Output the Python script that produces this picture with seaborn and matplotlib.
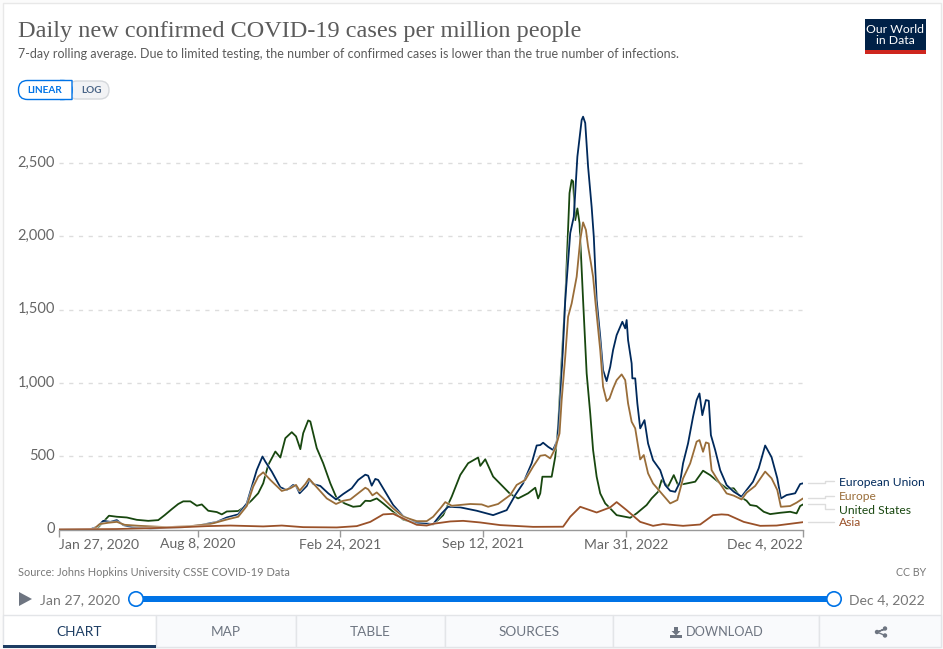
import pandas as pd
import matplotlib
matplotlib.use('Agg')
import matplotlib.pyplot as plt
import matplotlib.patheffects as pe
from matplotlib.patches import FancyBboxPatch, Rectangle, Polygon, Circle
import seaborn as sns

# values: day = days since Jan 27, 2020
us_days = [0, 48, 53, 62, 70, 81, 95, 109, 125, 139, 148, 158, 167, 174, 184, 193, 200, 209, 221, 228, 235, 251, 260, 270, 279, 286, 293, 303, 310, 317, 326, 332, 338, 342, 349, 352, 361, 370, 380, 389, 400, 412, 422, 429, 436, 445, 454, 468, 482, 501, 524, 538, 550, 562, 573, 587, 590, 597, 608, 632, 643, 657, 667, 671, 674, 677, 683, 690, 695, 699, 704, 709, 715, 718, 720, 723, 726, 729, 734, 739, 744, 748, 753, 758, 765, 772, 781, 800, 809, 823, 830, 839, 844, 853, 861, 867, 879, 891, 902, 912, 923, 935, 945, 954, 963, 968, 977, 987, 996, 1010, 1024, 1033, 1038, 1042]
us_vals = [0, 0, 5, 52, 94, 87, 82, 66, 59, 64, 98, 139, 174, 192, 192, 162, 171, 128, 119, 103, 123, 126, 155, 200, 247, 315, 440, 532, 491, 623, 664, 635, 548, 657, 744, 737, 555, 452, 315, 212, 178, 155, 160, 196, 194, 212, 178, 121, 68, 41, 34, 98, 224, 372, 452, 491, 434, 479, 361, 242, 212, 247, 285, 212, 246, 360, 360, 360, 496, 701, 1156, 1565, 2295, 2384, 2375, 2110, 2190, 2090, 1565, 1065, 792, 542, 360, 246, 178, 144, 98, 80, 110, 167, 212, 257, 337, 292, 371, 303, 314, 326, 401, 371, 326, 280, 281, 224, 196, 167, 160, 121, 105, 114, 121, 110, 160, 171]

eu_days = [0, 43, 53, 62, 72, 81, 90, 102, 128, 174, 198, 221, 235, 251, 263, 270, 277, 285, 289, 298, 310, 319, 328, 332, 337, 347, 351, 356, 366, 377, 388, 398, 410, 419, 429, 433, 438, 443, 447, 454, 468, 482, 501, 524, 536, 545, 562, 585, 608, 627, 639, 650, 662, 669, 674, 678, 685, 692, 698, 702, 705, 709, 716, 721, 726, 732, 734, 737, 741, 746, 749, 753, 758, 762, 767, 772, 776, 781, 786, 789, 793, 795, 797, 802, 803, 807, 810, 814, 820, 825, 832, 842, 849, 856, 863, 870, 874, 881, 888, 893, 897, 901, 906, 910, 913, 919, 926, 935, 945, 956, 963, 972, 980, 989, 998, 1006, 1011, 1019, 1031, 1038, 1042]
eu_vals = [0, 0, 18, 59, 52, 64, 30, 16, 7, 16, 30, 52, 82, 103, 178, 292, 406, 498, 463, 395, 288, 269, 304, 297, 247, 297, 342, 310, 297, 247, 205, 242, 281, 338, 374, 367, 299, 345, 338, 281, 167, 91, 46, 37, 110, 155, 151, 128, 98, 132, 235, 315, 452, 573, 576, 592, 564, 542, 610, 883, 1156, 1565, 2022, 2134, 2543, 2793, 2816, 2773, 2475, 2200, 1997, 1565, 1315, 1087, 1012, 1110, 1224, 1326, 1383, 1417, 1372, 1429, 1292, 1133, 1031, 1031, 860, 690, 746, 587, 473, 405, 303, 264, 257, 326, 451, 587, 769, 883, 928, 780, 883, 878, 644, 542, 405, 303, 258, 224, 269, 326, 418, 573, 493, 349, 212, 235, 247, 310, 315]

europe_days = [0, 48, 57, 69, 81, 92, 113, 151, 184, 212, 235, 251, 263, 272, 279, 286, 296, 312, 324, 332, 337, 345, 350, 361, 375, 388, 398, 408, 419, 429, 433, 439, 445, 454, 468, 482, 501, 515, 524, 534, 541, 550, 576, 592, 601, 615, 632, 641, 653, 664, 674, 681, 688, 695, 701, 704, 709, 713, 718, 725, 730, 734, 738, 741, 745, 748, 751, 758, 762, 767, 771, 776, 781, 788, 793, 797, 802, 807, 814, 819, 825, 832, 844, 856, 866, 874, 884, 893, 897, 902, 906, 910, 914, 924, 935, 945, 956, 963, 975, 989, 998, 1006, 1011, 1024, 1033, 1042]
europe_vals = [0, 0, 37, 46, 52, 32, 25, 16, 23, 37, 68, 87, 160, 292, 361, 390, 338, 263, 281, 304, 265, 310, 347, 288, 212, 174, 196, 205, 247, 285, 274, 233, 253, 212, 144, 87, 57, 57, 87, 144, 187, 162, 174, 171, 155, 174, 235, 304, 338, 429, 503, 508, 485, 553, 655, 883, 1178, 1451, 1542, 1724, 1975, 2095, 2043, 1929, 1817, 1724, 1565, 1224, 974, 876, 894, 962, 1019, 1058, 1019, 860, 735, 690, 478, 508, 383, 314, 246, 178, 201, 348, 451, 599, 610, 530, 594, 587, 405, 326, 246, 231, 205, 251, 297, 395, 349, 269, 155, 160, 183, 212]

asia_days = [0, 81, 128, 174, 207, 240, 286, 312, 342, 389, 417, 436, 454, 468, 482, 501, 515, 524, 548, 566, 590, 618, 664, 706, 716, 730, 753, 772, 781, 795, 814, 832, 846, 874, 898, 916, 928, 937, 959, 982, 1005, 1042]
asia_vals = [0, 3, 9, 16, 23, 27, 21, 27, 16, 14, 23, 52, 103, 107, 75, 32, 27, 39, 55, 59, 48, 30, 18, 19, 87, 155, 116, 151, 187, 132, 52, 25, 37, 25, 34, 98, 103, 100, 52, 25, 27, 50]

series_names = ['United States', 'European Union', 'Europe', 'Asia']
series_colors = ['#18470f', '#00295b', '#996d39', '#9a5129']

y_ticks = [0, 500, 1000, 1500, 2000, 2500]
y_labels = ['0', '500', '1,000', '1,500', '2,000', '2,500']
x_ticks = [0, 194, 394, 594, 794, 1042]
x_labels = ['Jan 27, 2020', 'Aug 8, 2020', 'Feb 24, 2021', 'Sep 12, 2021', 'Mar 31, 2022', 'Dec 4, 2022']

frames = []
for name, d, v in zip(series_names, [us_days, eu_days, europe_days, asia_days], [us_vals, eu_vals, europe_vals, asia_vals]):
    frames.append(pd.DataFrame({'day': d, 'cases': v, 'region': name}))
df = pd.concat(frames, ignore_index=True)

sns.set_theme(style='white')
plt.rcParams['font.family'] = ['Lato', 'DejaVu Sans']

W, H = 943, 649
fig = plt.figure(figsize=(W / 100, H / 100), dpi=100, facecolor='#fbfbfb')

# page furniture drawn in pixel coordinates
ui = fig.add_axes([0, 0, 1, 1], zorder=0)
ui.set_xlim(0, W)
ui.set_ylim(H, 0)
ui.axis('off')
ui.add_patch(Rectangle((3, 3), 938, 644, fc='white', ec='#e8e8e8', lw=1))

# main chart
px_per_val = 0.1466
top, bottom, left, right = 100, 529.5, 59, 803
ax = fig.add_axes([left / W, 1 - bottom / H, (right - left) / W, (bottom - top) / H], zorder=1)
ax.patch.set_alpha(0)
sns.lineplot(data=df, x='day', y='cases', hue='region', hue_order=series_names,
             palette=series_colors, estimator=None, sort=False, legend=False, lw=1.3, ax=ax,
             path_effects=[pe.Stroke(linewidth=2.2, foreground='white', alpha=0.6), pe.Normal()])
ax.set_xlim(0, 1042)
ax.set_ylim(0, (bottom - top) / px_per_val)
ax.set_xlabel('')
ax.set_ylabel('')
sns.despine(ax=ax, left=True, top=True, right=True)
ax.spines['bottom'].set_color('#999999')
ax.spines['bottom'].set_linewidth(1)
ax.set_yticks(y_ticks[1:])
ax.set_yticklabels([])
ax.tick_params(axis='y', length=0)
ax.grid(axis='y', color='#dddddd', ls=(0, (3, 4)), lw=1)
ax.set_axisbelow(True)
ax.set_xticks(x_ticks)
ax.set_xticklabels([])
ax.tick_params(axis='x', length=5, width=1, color='#999999', bottom=True)

grey = '#666666'
for t, lab in zip(y_ticks, y_labels):
    ui.text(55, bottom - t * px_per_val - 0.5, lab, ha='right', va='center', fontsize=10.5, color=grey)
for i, (t, lab) in enumerate(zip(x_ticks, x_labels)):
    ha = 'left' if i == 0 else 'right' if i == len(x_ticks) - 1 else 'center'
    ui.text(left + t * (right - left) / 1042, 544, lab, ha=ha, va='center', fontsize=10.1, color=grey)

# end labels with connectors
labels = [('European Union', 482, 483.3, 481, series_colors[1]),
          ('Europe', 496, 498.3, 495.7, series_colors[2]),
          ('United States', 510, 504.3, 509.3, series_colors[0]),
          ('Asia', 523, 522.3, 522.3, series_colors[3])]
for name, ty, y0, y1, col in labels:
    ui.plot([808, 825, 825, 834], [y0, y0, y1, y1], color='#dddddd', lw=1)
    ui.text(839, ty, name, ha='left', va='center', fontsize=8.65, color=col)

# header
ui.text(18, 31, 'Daily new confirmed COVID-19 cases per million people', ha='left', va='center',
        fontsize=17.5, color='#5b5b5b', family=['Liberation Serif', 'DejaVu Serif'])
ui.text(18, 53.5, '7-day rolling average. Due to limited testing, the number of confirmed cases is lower than the true number of infections.',
        ha='left', va='center', fontsize=9.0, color='#5b5b5b')

# logo
ui.add_patch(Rectangle((865, 19), 61, 35, fc='#002147', ec='none'))
ui.add_patch(Rectangle((865, 50), 61, 4, fc='#ce261e', ec='none'))
ui.text(895.5, 35, 'Our World\nin Data', ha='center', va='center', fontsize=8.8, color='white', linespacing=1.05)

# linear / log toggle
ui.add_patch(FancyBboxPatch((68, 81), 41, 18, boxstyle='round,pad=0,rounding_size=9', fc='#f2f3f5', ec='#d5d8dc', lw=1))
ui.add_patch(FancyBboxPatch((18.5, 80.5), 53.5, 19, boxstyle='round,pad=0,rounding_size=9', fc='white', ec='#0073e6', lw=1))
ui.add_patch(Rectangle((60, 81), 12, 18, fc='white', ec='none'))
ui.plot([60, 72, 72, 60], [80.5, 80.5, 99.5, 99.5], color='#0073e6', lw=1, solid_capstyle='butt', snap=False)
ui.text(45, 90.5, 'LINEAR', ha='center', va='center', fontsize=7.2, fontweight='bold', color='#0073e6')
ui.text(91, 90.5, 'LOG', ha='center', va='center', fontsize=7.2, fontweight='bold', color='#4a6587')

# footer
ui.text(18, 572, 'Source: Johns Hopkins University CSSE COVID-19 Data', ha='left', va='center', fontsize=7.95, color='#777777')
ui.text(926, 572, 'CC BY', ha='right', va='center', fontsize=7.7, color='#777777')

# timeline
ui.add_patch(Polygon([(19, 592), (19, 606), (32, 599)], fc='#6e7581', ec='none'))
ui.text(40, 600, 'Jan 27, 2020', ha='left', va='center', fontsize=10.1, color='#777777')
ui.text(925, 600, 'Dec 4, 2022', ha='right', va='center', fontsize=10.1, color='#777777')
ui.add_patch(Rectangle((136, 596), 698, 6, fc='#0073e6', ec='none'))
for cx in (136, 834):
    ui.add_patch(Circle((cx, 599), 7.2, fc='white', ec='#0073e6', lw=1.2, zorder=5))

# tabs
tab_edges = [3, 156, 296, 445, 613, 819, 941]
tab_names = ['CHART', 'MAP', 'TABLE', 'SOURCES', '', '']
for i, name in enumerate(tab_names):
    x0, x1 = tab_edges[i], tab_edges[i + 1]
    fc = 'white' if i == 0 else '#f9fafc'
    ui.add_patch(Rectangle((x0, 615), x1 - x0, 32, fc=fc, ec='#e3e5e8', lw=1))
    col = '#1d3d63' if i == 0 else '#6e7581'
    ui.text((x0 + x1) / 2, 632, name, ha='center', va='center', fontsize=9.8, color=col)
ui.add_patch(Rectangle((3, 645), 153, 2.5, fc='#1d3d63', ec='none', zorder=4))
ui.text(725, 632, 'DOWNLOAD', ha='center', va='center', fontsize=9.2, color='#6e7581')

# download icon
ui.add_patch(Polygon([(674, 627), (678, 627), (678, 631), (680.5, 631), (676, 635.5), (671.5, 631), (674, 631)], fc='#6e7581', ec='none'))
ui.add_patch(Rectangle((670, 635), 12, 3, fc='#6e7581', ec='none'))
# share icon
ui.plot([877, 885, 877], [632, 629, 632], color='#6e7581', lw=1)
ui.plot([877, 885], [632, 635.5], color='#6e7581', lw=1)
for cx, cy in [(877, 632), (885, 628.5), (885, 635.5)]:
    ui.add_patch(Circle((cx, cy), 2.2, fc='#6e7581', ec='none'))

fig.savefig('out.png', dpi=100, facecolor=fig.get_facecolor())
